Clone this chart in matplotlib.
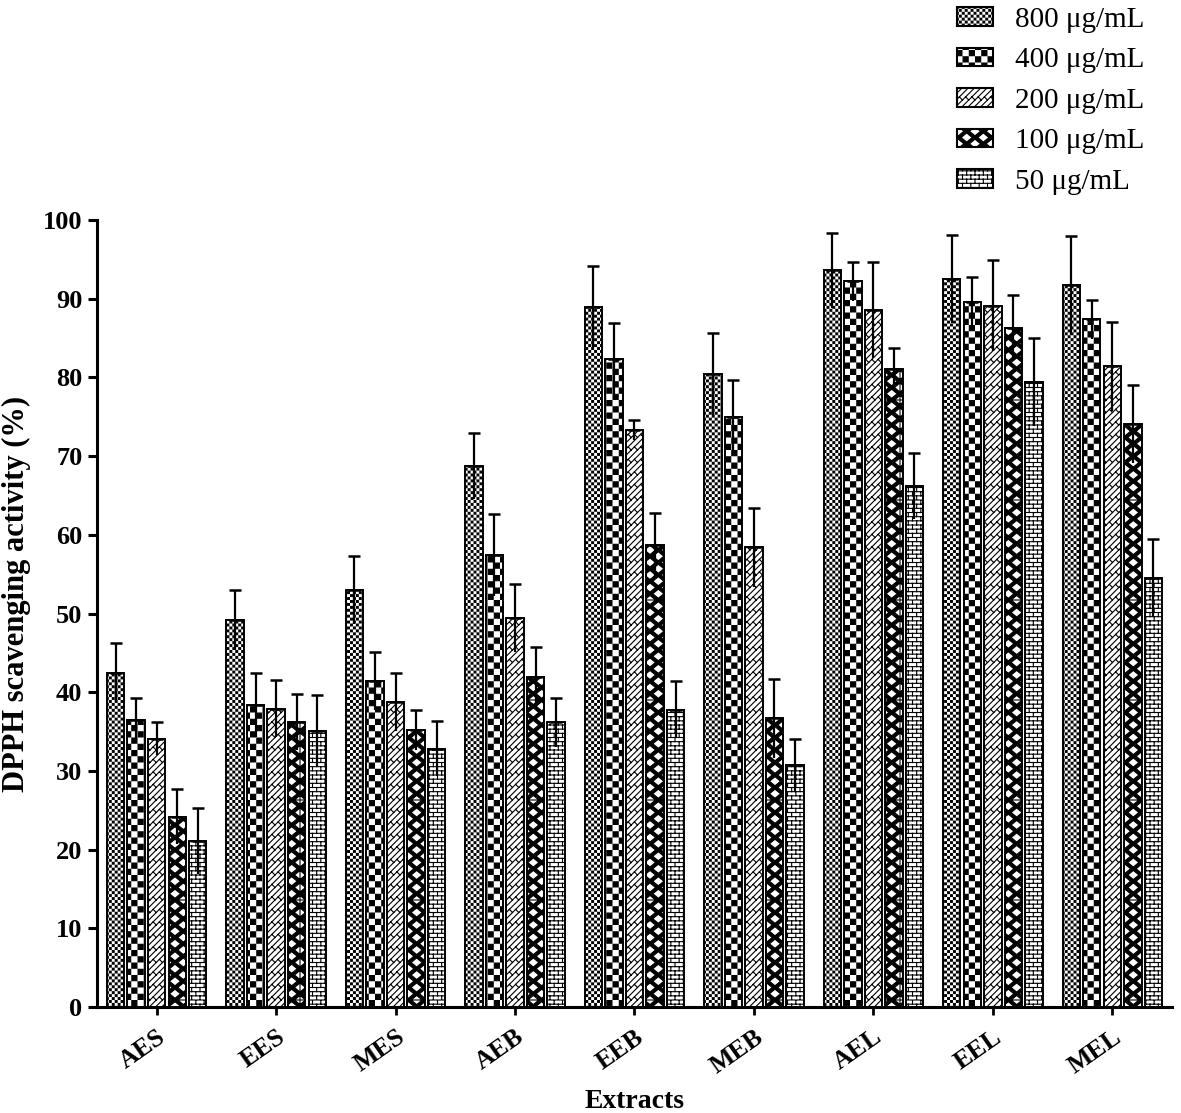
import warnings
import numpy as np
import matplotlib
matplotlib.use('Agg')
import matplotlib.pyplot as plt
import matplotlib.hatch as mhatch
from matplotlib.path import Path
from matplotlib.patches import Patch

warnings.filterwarnings('ignore')

# ---------------- data ----------------
extracts = ['AES', 'EES', 'MES', 'AEB', 'EEB', 'MEB', 'AEL', 'EEL', 'MEL']
conc_labels = ['800 \u03bcg/mL', '400 \u03bcg/mL', '200 \u03bcg/mL', '100 \u03bcg/mL', '50 \u03bcg/mL']

act_800 = [42.5, 49.2, 53.0, 68.7, 89.0, 80.4, 93.6, 92.5, 91.7]
act_400 = [36.5, 38.4, 41.4, 57.4, 82.4, 75.0, 92.2, 89.6, 87.4]
act_200 = [34.1, 37.9, 38.8, 49.4, 73.3, 58.4, 88.6, 89.1, 81.4]
act_100 = [24.2, 36.2, 35.2, 41.9, 58.7, 36.7, 81.1, 86.3, 74.1]
act_50 = [21.1, 35.1, 32.8, 36.2, 37.8, 30.7, 66.2, 79.4, 54.5]

sd_800 = [3.7, 3.8, 4.3, 4.2, 5.1, 5.2, 4.8, 5.6, 6.3]
sd_400 = [2.8, 4.1, 3.7, 5.2, 4.5, 4.7, 2.5, 3.2, 2.5]
sd_200 = [2.1, 3.6, 3.7, 4.3, 1.3, 5.0, 6.1, 5.8, 5.7]
sd_100 = [3.5, 3.6, 2.6, 3.8, 4.1, 5.0, 2.6, 4.2, 5.0]
sd_50 = [4.2, 4.6, 3.5, 3.1, 3.6, 3.4, 4.2, 5.6, 5.0]

series = [act_800, act_400, act_200, act_100, act_50]
errors = [sd_800, sd_400, sd_200, sd_100, sd_50]

# ---------------- custom hatch patterns (GraphPad-like fills) ----------------
E = 0.0056  # half hatch stroke, in hatch-tile units


def checker(n):
    s = 1.0 / n
    out = []
    for i in range(n):
        for j in range(n):
            if (i + j) % 2 == 0:
                x0, x1 = i * s + E, (i + 1) * s - E
                y0, y1 = j * s + E, (j + 1) * s - E
                out.append(([(x0, y0), (x1, y0), (x1, y1), (x0, y1), (x0, y0)], True))
    return out


def diag_bricks(n=16):
    out = []
    d = 2.0 / n
    for k in range(-n, n + 1):
        out.append(([(0, k / n), (1, 1 + k / n)], False))
        for j in range(-2, int(round(1 / d)) + 3):
            t = j * d + (k % 2) * d / 2
            p0 = (t, t + k / n)
            p1 = (t - 0.5 / n, t + k / n + 0.5 / n)
            if -0.1 < p0[0] < 1.1 and -0.1 < p0[1] < 1.1:
                out.append(([p0, p1], False))
    return out


def diamonds(nx=6, ny=8, ax_=0.05, ay_=0.04):
    out = [([(0, 0), (1, 0), (1, 1), (0, 1), (0, 0)], True)]
    a, b = ax_ + E, ay_ + E
    centres = [(i / nx, j / ny) for i in range(nx + 1) for j in range(ny + 1)]
    centres += [((i + 0.5) / nx, (j + 0.5) / ny) for i in range(nx) for j in range(ny)]
    for cx, cy in centres:
        out.append(([(cx, cy + b), (cx + a, cy), (cx, cy - b), (cx - a, cy), (cx, cy + b)], True))
    return out


def bricks(m=24, b=12):
    out = []
    for k in range(m + 1):
        out.append(([(0, k / m), (1, k / m)], False))
    for k in range(m):
        for j in range(b + 1):
            x = j / b + (k % 2) / (2 * b)
            if x <= 1:
                out.append(([(x, k / m), (x, (k + 1) / m)], False))
    return out


BUILDERS = {'c': lambda: checker(34), 'k': lambda: checker(16), 'z': diag_bricks,
            'q': diamonds, 'm': bricks}


class CustomHatch(mhatch.HatchPatternBase):
    def __init__(self, hatch, density):
        self.items = []
        for ch, fn in BUILDERS.items():
            if ch in hatch:
                self.items += fn()
        self.num_vertices = sum(len(p) for p, _ in self.items)

    def set_vertices_and_codes(self, vertices, codes):
        i = 0
        for pts, closed in self.items:
            n = len(pts)
            vertices[i:i + n] = pts
            codes[i] = Path.MOVETO
            codes[i + 1:i + n] = Path.LINETO
            if closed:
                codes[i + n - 1] = Path.CLOSEPOLY
            i += n


mhatch._hatch_types.append(CustomHatch)
hatches = ['c', 'k', 'z', 'q', 'm']

plt.rcParams['font.family'] = ['Liberation Serif', 'DejaVu Serif']
plt.rcParams['hatch.linewidth'] = 0.8
plt.rcParams['hatch.color'] = 'black'

# ---------------- plot ----------------
fig = plt.figure(figsize=(11.81, 11.13), dpi=100)
ax = fig.add_axes([0.0821, 0.0952, 0.9103, 0.7071])

pos = np.arange(len(extracts))
pitch = 0.172
width = 0.145

for i, (vals, sd, h) in enumerate(zip(series, errors, hatches)):
    x = pos + (i - 2) * pitch
    vals = np.array(vals)
    sd = np.array(sd)
    ax.bar(x, vals, width=width, facecolor='white', edgecolor='black',
           linewidth=1.4, hatch=h, zorder=2)
    # upper whisker with cap, lower whisker drawn inside the bar without cap
    ax.errorbar(x, vals, yerr=[np.zeros_like(sd), sd], fmt='none', ecolor='black',
                elinewidth=1.6, capsize=4.3, capthick=1.8, zorder=3)
    ax.errorbar(x, vals, yerr=[sd, np.zeros_like(sd)], fmt='none', ecolor='black',
                elinewidth=1.6, capsize=0, zorder=3)

ax.set_xlim(-0.5, 8.5)
ax.set_ylim(0, 100)
ax.set_yticks(np.arange(0, 101, 10))
ax.set_xticks(pos)
ax.set_xticklabels(extracts, rotation=35, ha='right', va='top',
                   rotation_mode='anchor', fontweight='bold', fontsize=18.5)
for lab in ax.get_yticklabels():
    lab.set_fontweight('bold')
    lab.set_fontsize(19)

for side in ['top', 'right']:
    ax.spines[side].set_visible(False)
for side in ['left', 'bottom']:
    ax.spines[side].set_linewidth(2.2)
ax.tick_params(axis='y', direction='out', length=6.5, width=2.2, pad=4)
ax.tick_params(axis='x', direction='out', length=6, width=2.0, pad=7)

ax.set_ylabel('DPPH scavenging activity (%)', fontsize=22, fontweight='bold')
ax.yaxis.set_label_coords(-0.061, 0.525)
ax.set_xlabel('Extracts', fontsize=20, fontweight='bold', labelpad=8)

handles = [Patch(facecolor='white', edgecolor='black', hatch=h, linewidth=1.5)
           for h in hatches]
fig.legend(handles, conc_labels, loc='upper left', bbox_to_anchor=(0.81, 0.994),
           frameon=False, fontsize=21, handlelength=1.25, handleheight=0.6,
           handletextpad=0.75, labelspacing=0.5, borderpad=0, borderaxespad=0)

fig.savefig('out.png', dpi=100)
